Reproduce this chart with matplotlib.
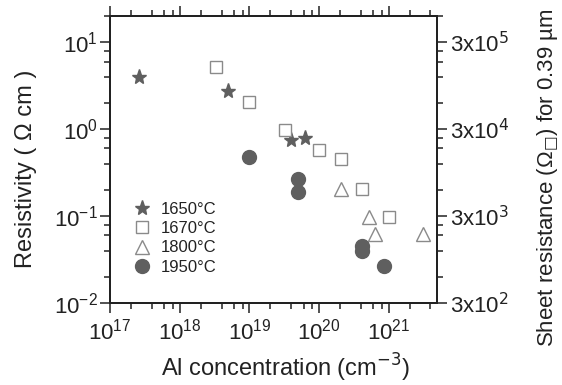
import numpy as np
import matplotlib.pyplot as plt
from matplotlib.ticker import LogLocator, FixedLocator, NullFormatter

plt.rcParams['font.family'] = ['Liberation Sans', 'DejaVu Sans']
plt.rcParams['mathtext.fontset'] = 'dejavusans'

# data
x_1650 = [2.6e17, 5.0e18, 4.0e19, 6.2e19]
y_1650 = [3.95, 2.72, 0.76, 0.80]

x_1670 = [3.35e18, 1.0e19, 3.3e19, 1.0e20, 2.04e20, 4.2e20, 1.03e21]
y_1670 = [5.15, 2.08, 0.97, 0.57, 0.46, 0.207, 0.098]

x_1800 = [2.1e20, 5.15e20, 6.3e20, 3.1e21]
y_1800 = [0.207, 0.098, 0.0626, 0.0626]

x_1950 = [1.0e19, 5.07e19, 5.07e19, 4.2e20, 4.2e20, 8.5e20]
y_1950 = [0.48, 0.27, 0.19, 0.045, 0.040, 0.0268]

right_ticks = [0.01, 0.1, 1, 10]
right_labels = [r'3x10$^2$', r'3x10$^3$', r'3x10$^4$', r'3x10$^5$']

txt = '#222222'
fill = '#5f5f5f'
edge = '#8a8a8a'

fig = plt.figure(figsize=(5.62, 3.85), dpi=100)
ax = fig.add_axes([0.196, 0.213, 0.582, 0.745])

ax.plot(x_1650, y_1650, ls='none', marker='*', ms=11, color=fill, mec=fill, label='1650°C')
ax.plot(x_1670, y_1670, ls='none', marker='s', ms=8, mfc='white', mec=edge, mew=1.0, label='1670°C')
ax.plot(x_1800, y_1800, ls='none', marker='^', ms=10, mfc='white', mec=edge, mew=1.0, label='1800°C')
ax.plot(x_1950, y_1950, ls='none', marker='o', ms=10, color=fill, mec=fill, label='1950°C')

ax.set_xscale('log')
ax.set_yscale('log')
ax.set_xlim(1e17, 5e21)
ax.set_ylim(1e-2, 20)

ax.xaxis.set_major_locator(LogLocator(base=10, numticks=10))
ax.xaxis.set_minor_locator(LogLocator(base=10, subs=[2, 4, 6, 8], numticks=10))
ax.yaxis.set_major_locator(LogLocator(base=10, numticks=10))
ax.yaxis.set_minor_locator(LogLocator(base=10, subs=[2, 4, 6, 8], numticks=10))
ax.xaxis.set_minor_formatter(NullFormatter())
ax.yaxis.set_minor_formatter(NullFormatter())

ax.tick_params(which='both', direction='out', top=True, right=False, colors=txt, width=1.1)
ax.tick_params(which='major', length=7, labelsize=16, pad=2)
ax.tick_params(which='minor', length=4)
ax.tick_params(axis='x', which='major', pad=4)
for s in ax.spines.values():
    s.set_linewidth(1.4)
    s.set_color(txt)

ax.set_xlabel('Al concentration (cm$^{-3}$)', fontsize=17, color=txt, va='center')
ax.xaxis.set_label_coords(0.535, -0.225)
ax.set_ylabel('Resistivity ( Ω cm )', fontsize=17, color=txt, va='center')
ax.yaxis.set_label_coords(-0.257, 0.467)

ax2 = ax.twinx()
ax2.set_yscale('log')
ax2.set_ylim(ax.get_ylim())
ax2.yaxis.set_major_locator(FixedLocator(right_ticks))
ax2.set_yticklabels(right_labels)
ax2.yaxis.set_minor_locator(LogLocator(base=10, subs=[2, 4, 6, 8], numticks=10))
ax2.yaxis.set_minor_formatter(NullFormatter())
ax2.tick_params(which='both', direction='out', colors=txt, width=1.1)
ax2.tick_params(which='major', length=7, labelsize=16, pad=2)
ax2.tick_params(which='minor', length=4)
ax2.set_ylabel('Sheet resistance (Ω$_{□}$) for 0.39 µm', fontsize=16, color=txt,
               va='center', rotation=90)
ax2.yaxis.set_label_coords(1.34, 0.435)
for s in ax2.spines.values():
    s.set_linewidth(1.4)
    s.set_color(txt)

leg = ax.legend(loc='upper left', bbox_to_anchor=(0.045, 0.375), frameon=False, fontsize=12,
                handletextpad=0.55, labelspacing=0.25, borderaxespad=0, handlelength=1.2)
for t in leg.get_texts():
    t.set_color(txt)

fig.savefig('out.png', dpi=100)
